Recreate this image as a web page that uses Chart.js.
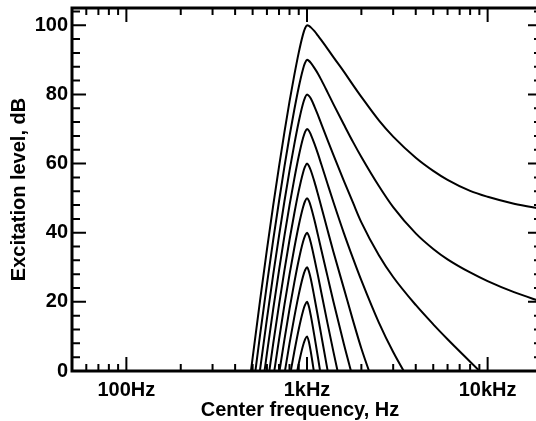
<!DOCTYPE html>
<html>
<head>
<meta charset="utf-8">
<script src="https://cdn.jsdelivr.net/npm/chart.js@4.4.1/dist/chart.umd.min.js"></script>
<style>
  html, body { margin: 0; padding: 0; background: #fff; overflow: hidden; }
  canvas { display: block; }
</style>
</head>
<body>
<canvas id="excitation" width="548" height="421"></canvas>
<script>
// centre frequencies (Hz) shared by every excitation pattern
const freqs = [480, 500, 550, 600, 650, 700, 750, 800, 850, 900, 950, 975, 1000,
  1025, 1050, 1100, 1150, 1200, 1300, 1400, 1600, 1800, 2000, 2500, 3000,
  4000, 5000, 6000, 8000, 10000, 14000, 20000];

// excitation level (dB) for a 1 kHz tone at each input level; null = not drawn
const level10 = [null, null, null, null, null, null, null, null, -4.5, 2.1, 7.3, 9.1, 10,
  8.4, 5.5, -1.2];
const level20 = [null, null, null, null, null, null, null, -2.1, 5.5, 12.1, 17.3, 19.1, 20,
  18.6, 16.0, 10.0, 3.9, -2.2];
const level30 = [null, null, null, null, null, null, -0.9, 7.9, 15.5, 22.1, 27.3, 29.1, 30,
  28.8, 26.6, 21.2, 15.7, 10.3, 0.2, -9];
const level40 = [null, null, null, null, null, -0.9, 9.1, 17.9, 25.5, 32.1, 37.3, 39.1, 40,
  39.0, 37.1, 32.4, 27.6, 22.7, 13.7, 5.6, -8.4];
const level50 = [null, null, null, null, -2.1, 9.1, 19.1, 27.9, 35.5, 42.1, 47.3, 49.1, 50,
  49.2, 47.6, 43.6, 39.3, 35.1, 27.3, 20.1, 7.8, -2.3];
const level60 = [null, null, null, -4.9, 7.9, 19.1, 29.1, 37.9, 45.5, 52.1, 57.3, 59.1, 60,
  59.3, 58.0, 54.7, 51.1, 47.5, 40.7, 34.5, 23.9, 14.5, 6.5, -8];
const level70 = [null, null, -9.5, 5.1, 17.9, 29.1, 39.1, 47.9, 55.5, 62.1, 67.3, 69.1, 70,
  69.5, 68.4, 65.7, 62.8, 59.8, 54.1, 48.9, 39.9, 32.5, 26.2, 14, 5.5, -6];
const level80 = [null, -16.2, 0.5, 15.1, 27.9, 39.1, 49.1, 57.9, 65.5, 72.1, 77.3, 79.1, 80,
  79.6, 78.8, 76.5, 74, 71.5, 66.8, 62.5, 55, 48.6, 43, 33.5, 27.2,
  19.1, 13.5, 9.2, 2.7, -2.3];
const level90 = [null, -6.2, 10.5, 25.1, 37.9, 49.1, 59.1, 67.9, 75.5, 82.1, 87.3, 89.1, 90,
  89.7, 89.1, 87.6, 86, 84.2, 80.6, 77.2, 71.3, 66.2, 61.9, 53.5, 47.4,
  39.8, 35.3, 32.3, 28.5, 26.0, 22.8, 20.0];
const level100 = [-3.6, 3.8, 20.5, 35.1, 47.9, 59.1, 69.1, 77.9, 85.5, 92.1, 97.3, 99.1, 100,
  99.85, 99.4, 98.3, 97.0, 95.7, 93.2, 90.8, 86.6, 82.7, 79.3, 72.5, 67.8,
  61.7, 57.9, 55.3, 52.1, 50.4, 48.4, 46.9];

const patterns = [level10, level20, level30, level40, level50,
  level60, level70, level80, level90, level100];

// axis ticks
const xTickValues = [100, 1000, 10000];
const xTickLabels = ['100Hz', '1kHz', '10kHz'];
const xMinorTicks = [60, 70, 80, 90, 200, 300, 400, 500, 600, 700, 800, 900,
  2000, 3000, 4000, 5000, 6000, 7000, 8000, 9000];
const yTickValues = [0, 20, 40, 60, 80, 100];
const yMinorTicks = [4, 8, 12, 16, 24, 28, 32, 36, 44, 48, 52, 56, 64, 68, 72, 76,
  84, 88, 92, 96, 104];

const FONT = "'Liberation Sans', Arial, Helvetica, sans-serif";
const xTitle = 'Center frequency, Hz';

const datasets = patterns.map(levels => ({
  data: levels.map((v, i) => ({ x: freqs[i], y: v })).filter(p => p.y !== null),
  borderColor: '#000',
  borderWidth: 2,
  borderJoinStyle: 'round',
  borderCapStyle: 'round',
  pointRadius: 0,
  fill: false,
  cubicInterpolationMode: 'monotone'
}));

// box around the plot with inward ticks on all four sides, plus the x title
const frameTicks = {
  id: 'frameTicks',
  afterDraw(chart) {
    const { ctx, chartArea: a, scales: { x, y } } = chart;
    ctx.save();
    ctx.strokeStyle = '#000';
    ctx.lineWidth = 2;
    ctx.beginPath();
    const xTick = (v, len) => {
      const px = x.getPixelForValue(v);
      ctx.moveTo(px, a.bottom); ctx.lineTo(px, a.bottom - len);
      ctx.moveTo(px, a.top); ctx.lineTo(px, a.top + len);
    };
    const yTick = (v, len) => {
      const py = y.getPixelForValue(v);
      ctx.moveTo(a.left, py); ctx.lineTo(a.left + len, py);
      ctx.moveTo(a.right, py); ctx.lineTo(a.right - len, py);
    };
    xTickValues.forEach(v => xTick(v, 14));
    xMinorTicks.forEach(v => xTick(v, 7));
    yTickValues.forEach(v => yTick(v, 14));
    yMinorTicks.forEach(v => yTick(v, 8));
    ctx.stroke();
    ctx.lineWidth = 3;
    ctx.strokeRect(a.left, a.top, a.right - a.left, a.bottom - a.top);

    ctx.fillStyle = '#000';
    ctx.font = 'bold 20px ' + FONT;
    ctx.textAlign = 'center';
    ctx.textBaseline = 'alphabetic';
    ctx.fillText(xTitle, 300, 416);
    ctx.restore();
  }
};

new Chart(document.getElementById('excitation').getContext('2d'), {
  type: 'line',
  data: { datasets: datasets },
  options: {
    responsive: false,
    animation: false,
    layout: { padding: { top: 8, right: 6, left: 0, bottom: 0 } },
    plugins: { legend: { display: false }, tooltip: { enabled: false } },
    scales: {
      x: {
        type: 'logarithmic',
        min: 50,
        max: 20000,
        grid: { display: false, drawTicks: false },
        border: { display: false },
        afterBuildTicks: scale => { scale.ticks = xTickValues.map(v => ({ value: v })); },
        afterFit: scale => {
          scale.height = 50;
          scale.paddingLeft = 0;
          scale.paddingRight = 0;
        },
        ticks: {
          autoSkip: false,
          maxRotation: 0,
          padding: 7,
          color: '#000',
          font: { family: FONT, size: 20, weight: 'bold' },
          callback: (v, i) => xTickLabels[i]
        }
      },
      y: {
        min: 0,
        max: 105,
        grid: { display: false, drawTicks: false },
        border: { display: false },
        afterBuildTicks: scale => { scale.ticks = yTickValues.map(v => ({ value: v })); },
        afterFit: scale => {
          scale.width = 72;
          scale.paddingTop = 0;
          scale.paddingBottom = 0;
        },
        ticks: {
          padding: 4,
          color: '#000',
          font: { family: FONT, size: 20, weight: 'bold' },
          callback: v => String(v)
        },
        title: {
          display: true,
          text: 'Excitation level, dB',
          color: '#000',
          font: { family: FONT, size: 20, weight: 'bold' },
          padding: { top: 7, bottom: 0 }
        }
      }
    }
  },
  plugins: [frameTicks]
});
</script>
</body>
</html>
